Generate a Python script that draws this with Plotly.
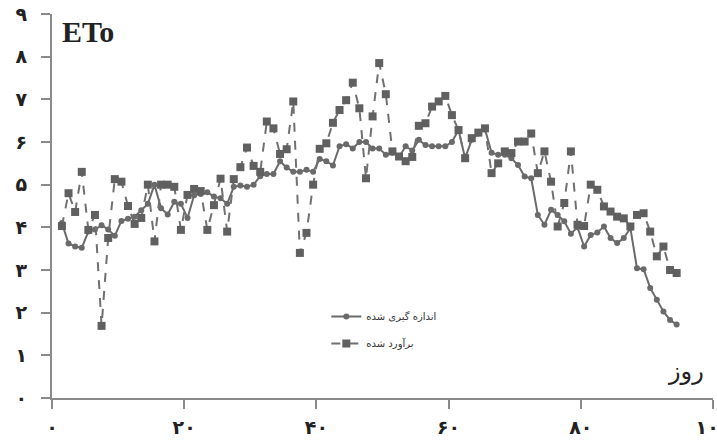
import plotly.graph_objects as go

days = list(range(1, 95))

measured = [4.1, 3.62, 3.55, 3.52, 3.9, 3.95, 4.05, 3.95, 3.8, 4.15,
            4.2, 4.25, 4.4, 4.55, 5.0, 4.45, 4.3, 4.6, 4.55, 4.22,
            4.75, 4.78, 4.82, 4.72, 4.68, 4.55, 4.95, 4.98, 4.95, 5.0,
            5.2, 5.25, 5.25, 5.55, 5.4, 5.3, 5.3, 5.35, 5.3, 5.6,
            5.55, 5.45, 5.9, 5.95, 5.85, 6.0, 6.0, 5.85, 5.85, 5.7,
            5.75, 5.65, 5.9, 5.8, 6.05, 5.93, 5.9, 5.9, 5.9, 6.0,
            6.28, 5.62, 6.05, 6.2, 6.3, 5.75, 5.7, 5.7, 5.62, 5.46,
            5.19, 5.15, 4.29, 4.06, 4.41, 4.29, 4.14, 3.85, 4.0, 3.55,
            3.82, 3.88, 4.02, 3.75, 3.63, 3.75, 3.98, 3.04, 3.02, 2.58,
            2.3, 2.03, 1.83, 1.72]

estimated = [4.03, 4.8, 4.36, 5.3, 3.94, 4.29, 1.69, 3.75, 5.13, 5.07,
             4.5, 4.08, 4.22, 5.0, 3.67, 5.0, 5.0, 4.95, 3.94, 4.76,
             4.9, 4.85, 3.94, 4.52, 5.14, 3.9, 5.13, 5.41, 5.87, 5.44,
             5.3, 6.48, 6.32, 5.72, 5.83, 6.95, 3.4, 3.87, 5.0, 5.84,
             5.97, 6.45, 6.75, 6.98, 7.39, 6.79, 5.15, 6.6, 7.85, 7.12,
             5.78, 5.66, 5.55, 5.65, 6.38, 6.44, 6.83, 6.95, 7.08, 6.63,
             6.28, 5.62, 6.09, 6.22, 6.32, 5.27, 5.5, 5.78, 5.74, 6.01,
             6.01, 6.2, 5.27, 5.78, 5.07, 4.02, 4.57, 5.78, 4.06, 4.03,
             5.0, 4.88, 4.49, 4.37, 4.25, 4.21, 4.02, 4.29, 4.33, 3.9,
             3.32, 3.55, 3.0, 2.93]

x_ticks = [0, 20, 40, 60, 80, 100]
x_labels = ["۰", "۲۰", "۴۰", "۶۰", "۸۰", "۱۰۰"]
y_ticks = list(range(0, 10))
y_labels = ["۰", "۱", "۲", "۳", "۴", "۵", "۶", "۷", "۸", "۹"]

name_measured = "اندازه گیری شده"
name_estimated = "برآورد شده"

xpos = [d + 0.5 for d in days]

fig = go.Figure()
fig.add_trace(go.Scatter(
    x=xpos, y=measured, name=name_measured, mode="lines+markers",
    line=dict(color="#6a6a6a", width=2),
    marker=dict(symbol="circle", size=6, color="#6a6a6a"),
    legendgroup="a",
))
fig.add_trace(go.Scatter(
    x=xpos, y=estimated, name=name_estimated, mode="lines+markers",
    line=dict(color="#707070", width=2, dash="dash"),
    marker=dict(symbol="square", size=8, color="#606060"),
    legendgroup="b",
))

axis_common = dict(
    showgrid=False, zeroline=False, showline=True, automargin=False,
    linecolor="#8a8a8a", linewidth=2,
    ticks="outside", ticklen=9, tickcolor="#8a8a8a", tickwidth=2,
    ticklabeloverflow="allow",
    tickfont=dict(size=19, family="DejaVu Sans", color="#222222", weight="bold"),
)

fig.update_layout(
    width=717, height=443,
    margin=dict(l=52, r=4, t=14, b=45, autoexpand=False),
    paper_bgcolor="white", plot_bgcolor="white",
    font=dict(family="DejaVu Sans", color="#222222"),
    legend=dict(x=0.415, y=0.25, xanchor="left", yanchor="top",
                font=dict(size=10, family="DejaVu Sans", color="#333333"),
                tracegroupgap=8, bgcolor="rgba(0,0,0,0)"),
    xaxis=dict(range=[0, 100], tickvals=x_ticks, ticktext=x_labels,
               ticklabelstandoff=2, **axis_common),
    yaxis=dict(range=[0, 9], tickvals=y_ticks, ticktext=y_labels,
               ticklabelstandoff=10, **axis_common),
    annotations=[
        dict(text="<b>ETo</b>", xref="paper", yref="paper", x=0.012, y=0.955,
             xanchor="left", yanchor="middle", showarrow=False,
             font=dict(size=30, family="Liberation Serif", color="#222222")),
        dict(text="روز", xref="paper", yref="paper", x=0.99, y=0.07,
             xanchor="right", yanchor="middle", showarrow=False,
             font=dict(size=24, family="DejaVu Sans", color="#222222")),
    ],
)

fig.write_html("out.html", config={"displayModeBar": False},
               post_script="document.body.style.margin='0px';document.body.style.overflow='hidden';")
